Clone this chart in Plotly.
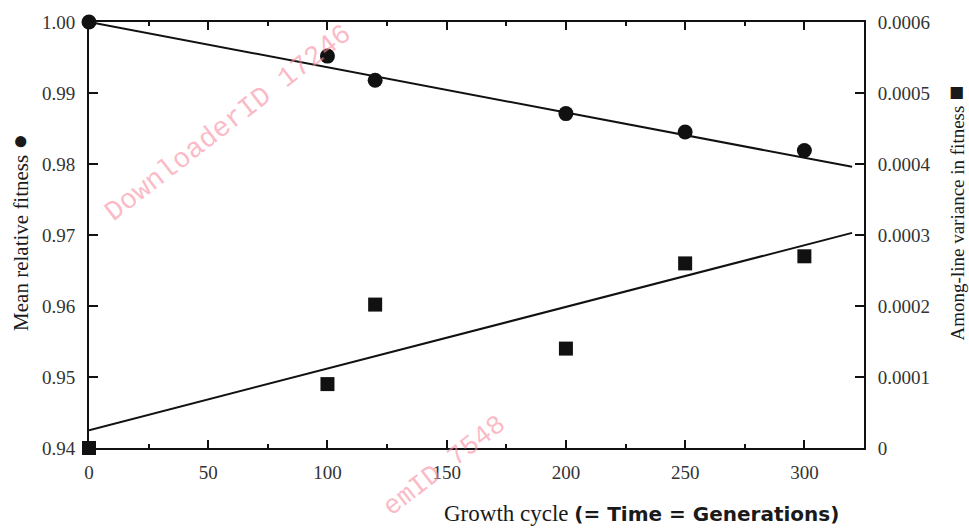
import plotly.graph_objects as go

# ---- data ----
cycles = [0, 100, 120, 200, 250, 300]
mean_fitness = [1.000, 0.9952, 0.9918, 0.9871, 0.9845, 0.9819]
among_line_variance = [0.0, 0.00009, 0.000202, 0.00014, 0.00026, 0.00027]

fit_cycles = [0, 320]
fit_fitness = [1.000, 0.9796]
fit_variance = [0.000025, 0.000303]

x_ticks = [0, 50, 100, 150, 200, 250, 300]
fitness_ticks = [0.94, 0.95, 0.96, 0.97, 0.98, 0.99, 1.00]
variance_ticks = [0, 0.0001, 0.0002, 0.0003, 0.0004, 0.0005, 0.0006]
variance_tick_text = ["0", "0.0001", "0.0002", "0.0003", "0.0004", "0.0005", "0.0006"]

SERIF = "Liberation Serif, Times New Roman, serif"
MONO = "Liberation Mono, DejaVu Sans Mono, monospace"
INK = "#111111"
WATERMARK = "rgba(248,140,160,0.6)"

fig = go.Figure()
fig.add_trace(go.Scatter(x=fit_cycles, y=fit_fitness, mode="lines",
                         line=dict(color=INK, width=2), yaxis="y", showlegend=False))
fig.add_trace(go.Scatter(x=cycles, y=mean_fitness, mode="markers",
                         marker=dict(symbol="circle", size=15, color=INK),
                         cliponaxis=False, yaxis="y", showlegend=False))
fig.add_trace(go.Scatter(x=fit_cycles, y=fit_variance, mode="lines",
                         line=dict(color=INK, width=2), yaxis="y2", showlegend=False))
fig.add_trace(go.Scatter(x=cycles, y=among_line_variance, mode="markers",
                         marker=dict(symbol="square", size=14, color=INK),
                         cliponaxis=False, yaxis="y2", showlegend=False))

tickfont = dict(family=SERIF, size=19, color="#333333")

fig.update_layout(
    width=969, height=529,
    margin=dict(l=89, r=105, t=12, b=81),
    paper_bgcolor="white", plot_bgcolor="white",
    xaxis=dict(range=[0, 325], tickvals=x_ticks, ticks="inside", ticklen=8,
               tickwidth=2, tickcolor=INK, showline=True, linewidth=2,
               linecolor=INK, mirror="ticks", showgrid=False, zeroline=False,
               tickfont=tickfont, ticklabelstandoff=6,
               minor=dict(dtick=25, ticks="inside", ticklen=4, tickwidth=1.5,
                          tickcolor=INK, showgrid=False)),
    yaxis=dict(range=[0.94, 1.00], tickvals=fitness_ticks, tickformat=".2f",
               ticks="inside", ticklen=9, tickwidth=2, tickcolor=INK,
               showline=True, linewidth=2, linecolor=INK, showgrid=False,
               zeroline=False, tickfont=tickfont, ticklabelstandoff=8),
    yaxis2=dict(range=[0, 0.0006], tickvals=variance_ticks,
                ticktext=variance_tick_text, overlaying="y", side="right",
                ticks="inside", ticklen=9, tickwidth=2, tickcolor=INK,
                showline=True, linewidth=2, linecolor=INK, showgrid=False,
                zeroline=False, tickfont=tickfont, ticklabelstandoff=8),
    annotations=[
        dict(text="Mean relative fitness <span style=\"font-size:26px\">●</span>",
             xref="paper", yref="paper",
             x=-0.089, y=0.505, xanchor="center", yanchor="middle",
             textangle=-90, showarrow=False,
             font=dict(family=SERIF, size=21, color="#1a1a1a")),
        dict(text="Among-line variance in fitness <span style=\"font-size:25px\">■</span>",
             xref="paper", yref="paper",
             x=1.1174, y=0.553, xanchor="center", yanchor="middle",
             textangle=-90, showarrow=False,
             font=dict(family=SERIF, size=19, color="#1a1a1a")),
        dict(text="Growth cycle <span style=\"font-family:'DejaVu Sans';font-weight:bold;font-size:20px\">(= Time = Generations)</span>",
             xref="paper", yref="paper", x=0.7135, y=-0.1537,
             xanchor="center", yanchor="middle", showarrow=False,
             font=dict(family=SERIF, size=23, color="#1a1a1a")),
        dict(text="DownloaderID 17246", xref="paper", yref="paper",
             x=0.1794, y=0.762, xanchor="center", yanchor="middle",
             textangle=-37.7, showarrow=False,
             font=dict(family=MONO, size=28, color=WATERMARK)),
        dict(text="emID 7548", xref="paper", yref="paper",
             x=0.4594, y=-0.043, xanchor="center", yanchor="middle",
             textangle=-37.7, showarrow=False,
             font=dict(family=MONO, size=27, color=WATERMARK)),
    ],
)

fig.write_html("out.html")
